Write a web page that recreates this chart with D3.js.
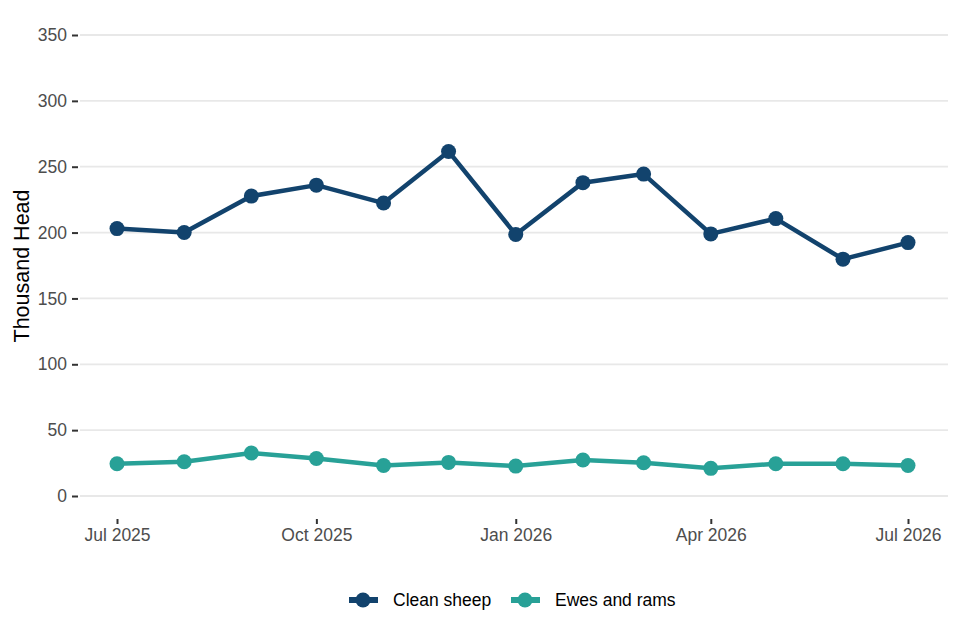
<!DOCTYPE html>
<html>
<head>
<meta charset="utf-8">
<script src="https://cdn.jsdelivr.net/npm/d3@7"></script>
<style>
  body { margin: 0; background: #fff; }
  text { font-family: "Liberation Sans", Arial, sans-serif; }
</style>
</head>
<body>
<svg id="chart" width="960" height="640"></svg>
<script>
// monthly figures, thousand head
var months = ['2025-07', '2025-08', '2025-09', '2025-10', '2025-11', '2025-12',
              '2026-01', '2026-02', '2026-03', '2026-04', '2026-05', '2026-06', '2026-07'];
var cleanSheep = [203, 200, 227.7, 236, 222.4, 261.6, 198.5, 237.9, 244.4, 199, 210.6, 179.8, 192.4];
var ewesAndRams = [24.5, 26, 32.6, 28.5, 23.2, 25.5, 22.7, 27.3, 25.2, 21, 24.5, 24.5, 23.2];
var seriesNames = ['Clean sheep', 'Ewes and rams'];
var seriesColours = ['#12436D', '#28A197'];
var yTicks = [0, 50, 100, 150, 200, 250, 300, 350];
var xTickMonths = ['2025-07', '2025-10', '2026-01', '2026-04', '2026-07'];

var parseMonth = d3.timeParse('%Y-%m');
var dates = months.map(parseMonth);

var series = [cleanSheep, ewesAndRams].map(function(vals, i) {
    return {
        name: seriesNames[i],
        colour: seriesColours[i],
        points: vals.map(function(v, j) { return { date: dates[j], value: v }; })
    };
});

var svg = d3.select('#chart');

var panelLeft = 80, panelRight = 948;
var x = d3.scaleTime()
    .domain(d3.extent(dates))
    .range([117, 908]);
var y = d3.scaleLinear()
    .domain([0, 350])
    .range([496, 35]);

// gridlines
svg.append('g')
    .selectAll('line')
    .data(yTicks)
    .join('line')
    .attr('x1', panelLeft)
    .attr('x2', panelRight)
    .attr('y1', function(d) { return y(d); })
    .attr('y2', function(d) { return y(d); })
    .attr('stroke', '#e8e8e8')
    .attr('stroke-width', 1.8);

// y axis
var yAxis = svg.append('g')
    .attr('transform', 'translate(78,0)')
    .call(d3.axisLeft(y).tickValues(yTicks).tickSize(6).tickPadding(5));
yAxis.select('.domain').remove();
yAxis.selectAll('.tick line').attr('stroke', '#333').attr('stroke-width', 2);
yAxis.selectAll('.tick text')
    .attr('fill', '#4d4d4d')
    .style('font-size', '17.5px')
    .style('font-family', '"Liberation Sans", Arial, sans-serif');

// x axis
var xAxis = svg.append('g')
    .attr('transform', 'translate(0,519)')
    .call(d3.axisBottom(x)
        .tickValues(xTickMonths.map(parseMonth))
        .tickFormat(d3.timeFormat('%b %Y'))
        .tickSize(5)
        .tickPadding(5));
xAxis.select('.domain').remove();
xAxis.selectAll('.tick line').attr('stroke', '#333').attr('stroke-width', 2);
xAxis.selectAll('.tick text')
    .attr('fill', '#4d4d4d')
    .style('font-size', '17.5px')
    .style('font-family', '"Liberation Sans", Arial, sans-serif');

// y title
svg.append('text')
    .attr('transform', 'translate(29,266) rotate(-90)')
    .attr('text-anchor', 'middle')
    .attr('fill', '#000')
    .style('font-size', '21.5px')
    .text('Thousand Head');

var line = d3.line()
    .x(function(d) { return x(d.date); })
    .y(function(d) { return y(d.value); });

var groups = svg.selectAll('g.series')
    .data(series)
    .join('g')
    .attr('class', 'series');

groups.append('path')
    .attr('d', function(d) { return line(d.points); })
    .attr('fill', 'none')
    .attr('stroke', function(d) { return d.colour; })
    .attr('stroke-width', 4.5)
    .attr('stroke-linejoin', 'round');

groups.selectAll('circle')
    .data(function(d) { return d.points.map(function(p) { return { p: p, colour: d.colour }; }); })
    .join('circle')
    .attr('cx', function(d) { return x(d.p.date); })
    .attr('cy', function(d) { return y(d.p.value); })
    .attr('r', 7.5)
    .attr('fill', function(d) { return d.colour; });

// legend
var legendX = [349, 511];
var legend = svg.append('g')
    .selectAll('g')
    .data(series)
    .join('g')
    .attr('transform', function(d, i) { return 'translate(' + legendX[i] + ',600)'; });

legend.append('line')
    .attr('x1', 0).attr('x2', 29)
    .attr('stroke', function(d) { return d.colour; })
    .attr('stroke-width', 6);
legend.append('circle')
    .attr('cx', 14)
    .attr('r', 7.5)
    .attr('fill', function(d) { return d.colour; });
legend.append('text')
    .attr('x', 44)
    .attr('dy', '0.35em')
    .attr('fill', '#000')
    .style('font-size', '17.5px')
    .text(function(d) { return d.name; });
</script>
</body>
</html>
